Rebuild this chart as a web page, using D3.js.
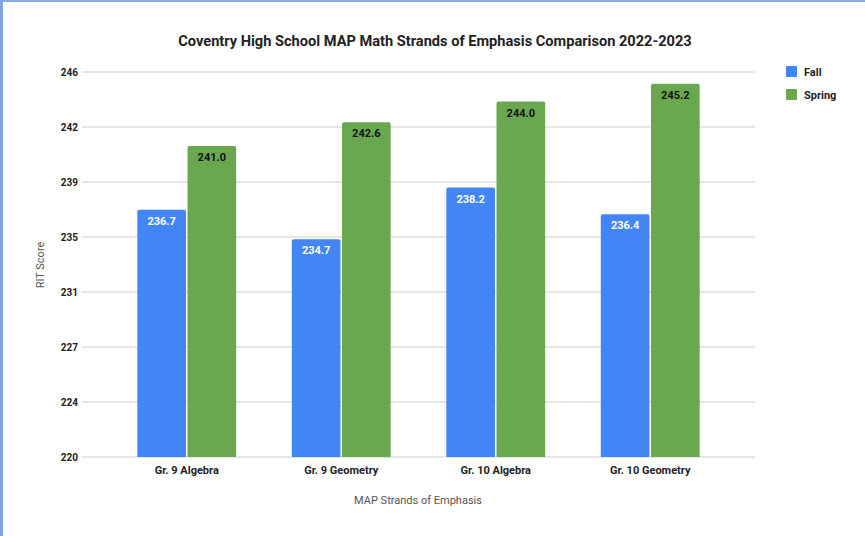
<!DOCTYPE html>
<html>
<head>
<meta charset="utf-8">
<script src="https://cdn.jsdelivr.net/npm/d3@7"></script>
<style>
  html, body { margin: 0; padding: 0; background: #fff; }
  svg { display: block; font-family: Roboto, "Noto Sans", sans-serif; }
</style>
</head>
<body>
<svg id="chart" width="865" height="536"></svg>
<script>
// chart data
const categories = ["Gr. 9 Algebra", "Gr. 9 Geometry", "Gr. 10 Algebra", "Gr. 10 Geometry"];
const seriesNames = ["Fall", "Spring"];
const fallValues = [236.7, 234.7, 238.2, 236.4];
const springValues = [241.0, 242.6, 244.0, 245.2];
const yTicks = [220, 224, 227, 231, 235, 239, 242, 246];

const colors = { Fall: "#4285f4", Spring: "#6aa84f" };
const labelColors = { Fall: "#ffffff", Spring: "#111111" };

const svg = d3.select("#chart");
const W = 865, H = 536;
const plot = { left: 82, right: 755, top: 72, bottom: 457 };

// frame strips on top and left edge
svg.append("rect").attr("x", 0).attr("y", 0).attr("width", W).attr("height", 2).attr("fill", "#86ace0");
svg.append("rect").attr("x", 0).attr("y", 0).attr("width", 3).attr("height", H).attr("fill", "#7ea6dd");

// scales
const y = d3.scaleLinear().domain([220, 246]).range([plot.bottom, plot.top]);
const x0 = d3.scaleBand().domain(categories).range([plot.left, plot.right])
    .paddingInner(0.36).paddingOuter(0.358);
const x1 = d3.scaleBand().domain(seriesNames).range([0, x0.bandwidth()]).paddingInner(0.03);

// gridlines (evenly spaced, labels are rounded values)
const tickPos = (d, i) => y(220 + i * 26 / 7);

svg.append("g").selectAll("line")
    .data(yTicks)
    .enter().append("line")
    .attr("x1", plot.left).attr("x2", plot.right)
    .attr("y1", tickPos)
    .attr("y2", tickPos)
    .attr("stroke", "#cccccc")
    .attr("stroke-width", 1);

svg.append("g").selectAll("text")
    .data(yTicks)
    .enter().append("text")
    .attr("x", plot.left - 4)
    .attr("y", (d, i) => tickPos(d, i) + 3.5)
    .attr("text-anchor", "end")
    .attr("font-size", 10)
    .attr("font-weight", "bold")
    .attr("fill", "#222")
    .text(d => d);

// bars
const rows = categories.map((c, i) => ({
    category: c,
    values: [
        { key: "Fall", value: fallValues[i] },
        { key: "Spring", value: springValues[i] }
    ]
}));

const groups = svg.append("g").selectAll("g")
    .data(rows)
    .enter().append("g")
    .attr("transform", d => `translate(${x0(d.category)},0)`);

groups.selectAll("path")
    .data(d => d.values)
    .enter().append("path")
    .attr("d", d => {
        const bx = x1(d.key), bw = x1.bandwidth();
        const top = y(d.value), bot = y(220), r = 2;
        return `M${bx},${bot}V${top + r}Q${bx},${top} ${bx + r},${top}` +
            `H${bx + bw - r}Q${bx + bw},${top} ${bx + bw},${top + r}V${bot}Z`;
    })
    .attr("fill", d => colors[d.key]);

groups.selectAll("text")
    .data(d => d.values)
    .enter().append("text")
    .attr("x", d => x1(d.key) + x1.bandwidth() / 2)
    .attr("y", d => y(d.value) + 15)
    .attr("text-anchor", "middle")
    .attr("font-size", 11)
    .attr("font-weight", "bold")
    .attr("fill", d => labelColors[d.key])
    .text(d => d.value.toFixed(1));

// x category labels
svg.append("g").selectAll("text")
    .data(categories)
    .enter().append("text")
    .attr("x", d => x0(d) + x0.bandwidth() / 2)
    .attr("y", plot.bottom + 17)
    .attr("text-anchor", "middle")
    .attr("font-size", 11)
    .attr("font-weight", "bold")
    .attr("fill", "#222")
    .text(d => d);

// title
svg.append("text")
    .attr("x", 435).attr("y", 46)
    .attr("text-anchor", "middle")
    .attr("font-size", 14.6)
    .attr("font-weight", "bold")
    .attr("fill", "#222")
    .text("Coventry High School MAP Math Strands of Emphasis Comparison 2022-2023");

// axis titles
svg.append("text")
    .attr("x", 418).attr("y", 504)
    .attr("text-anchor", "middle")
    .attr("font-size", 11)
    .attr("fill", "#555")
    .text("MAP Strands of Emphasis");

svg.append("text")
    .attr("transform", "translate(44,265) rotate(-90)")
    .attr("text-anchor", "middle")
    .attr("font-size", 11)
    .attr("fill", "#555")
    .text("RIT Score");

// legend
const legend = svg.append("g").selectAll("g")
    .data(seriesNames)
    .enter().append("g")
    .attr("transform", (d, i) => `translate(786,${66 + i * 23})`);

legend.append("rect")
    .attr("width", 11).attr("height", 11).attr("rx", 1)
    .attr("fill", d => colors[d]);

legend.append("text")
    .attr("x", 18).attr("y", 9.5)
    .attr("font-size", 11)
    .attr("font-weight", "bold")
    .attr("fill", "#222")
    .text(d => d);
</script>
</body>
</html>
